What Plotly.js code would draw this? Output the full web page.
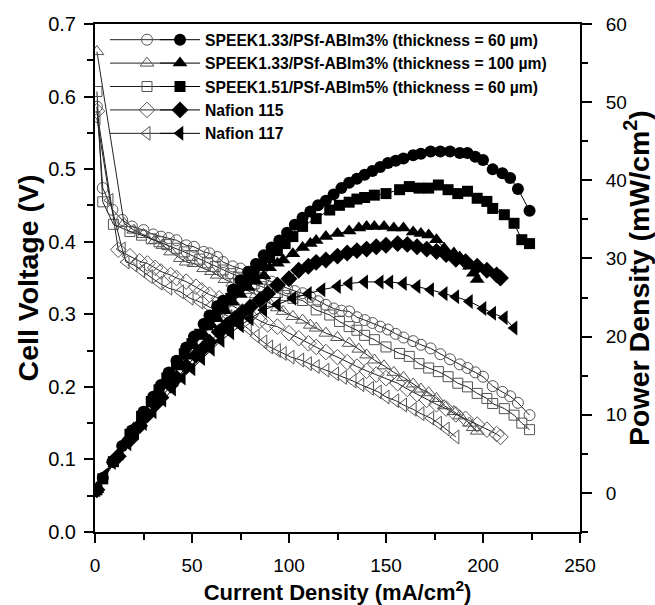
<!DOCTYPE html>
<html>
<head>
<meta charset="utf-8">
<script src="https://cdn.plot.ly/plotly-3.0.1.min.js"></script>
<style>
  html, body { margin: 0; padding: 0; background: #fff; }
  #chart { width: 655px; height: 605px; }
</style>
</head>
<body>
<div id="chart"></div>
<script>
// ---- Data ----
const seriesNames = [
  'SPEEK1.33/PSf-ABIm3% (thickness = 60 µm)',
  'SPEEK1.33/PSf-ABIm3% (thickness = 100 µm)',
  'SPEEK1.51/PSf-ABIm5% (thickness = 60 µm)',
  'Nafion 115',
  'Nafion 117'
];

// SPEEK1.33/PSf-ABIm3% 60 µm (circles)
const currentA = [1, 4, 9, 14, 19, 25, 30, 34, 38, 42, 47, 51, 56, 59, 63, 66, 71, 75, 79, 83, 87, 91, 95, 99, 103, 107, 111, 115, 119, 123, 127, 131, 135, 139, 143, 147, 151, 155, 159, 164, 168, 173, 178, 183, 188, 192, 196, 200, 205, 210, 214, 218, 224];
const voltageA = [0.586, 0.474, 0.444, 0.430, 0.421, 0.416, 0.410, 0.407, 0.405, 0.402, 0.395, 0.393, 0.386, 0.384, 0.379, 0.372, 0.366, 0.363, 0.358, 0.353, 0.349, 0.345, 0.340, 0.336, 0.332, 0.329, 0.324, 0.318, 0.313, 0.308, 0.305, 0.304, 0.296, 0.292, 0.288, 0.283, 0.279, 0.273, 0.268, 0.263, 0.258, 0.253, 0.245, 0.238, 0.231, 0.226, 0.220, 0.214, 0.201, 0.193, 0.187, 0.178, 0.161];
const powerA = [0.4, 1.9, 4.0, 6.0, 8.0, 10.4, 12.3, 13.8, 15.4, 16.9, 18.6, 20.0, 21.6, 22.7, 23.9, 24.6, 26.0, 27.2, 28.3, 29.3, 30.4, 31.4, 32.3, 33.3, 34.3, 35.2, 36.0, 36.8, 37.4, 38.2, 39.0, 39.7, 40.2, 40.7, 41.2, 41.7, 42.2, 42.5, 42.8, 43.2, 43.4, 43.7, 43.7, 43.7, 43.5, 43.5, 43.0, 42.6, 41.4, 40.9, 40.3, 38.9, 36.1];

// SPEEK1.33/PSf-ABIm3% 100 µm (up triangles)
const currentB = [1, 15, 20, 25, 31, 35, 39, 44, 47, 51, 56, 60, 63, 67, 71, 75, 79, 83, 87, 90, 94, 97, 102, 107, 111, 114, 119, 125, 131, 136, 140, 144, 149, 154, 159, 164, 168, 172, 176, 180, 185, 188, 193, 195, 197];
const voltageB = [0.662, 0.425, 0.416, 0.410, 0.402, 0.395, 0.386, 0.377, 0.372, 0.370, 0.363, 0.359, 0.354, 0.348, 0.343, 0.338, 0.333, 0.327, 0.320, 0.315, 0.309, 0.304, 0.297, 0.292, 0.285, 0.281, 0.274, 0.268, 0.260, 0.252, 0.244, 0.237, 0.229, 0.220, 0.213, 0.204, 0.197, 0.192, 0.184, 0.174, 0.166, 0.160, 0.150, 0.144, 0.139];
const powerB = [0.4, 6.4, 8.3, 10.2, 12.5, 13.8, 15.1, 16.6, 17.5, 18.9, 20.3, 21.5, 22.3, 23.3, 24.4, 25.4, 26.3, 27.1, 27.8, 28.8, 29.4, 29.8, 30.6, 31.4, 31.9, 32.3, 32.8, 33.2, 33.5, 33.9, 34.1, 34.1, 34.1, 33.9, 33.9, 33.4, 33.2, 33.0, 32.4, 31.3, 30.7, 30.2, 29.0, 28.1, 27.3];

// SPEEK1.51/PSf-ABIm5% 60 µm (squares)
const currentC = [1, 4, 9.5, 18, 24, 29, 33, 37, 42, 46, 50, 54, 58, 62, 66, 70, 74, 78, 82, 86, 90, 94, 98, 102, 107, 114, 121, 126, 131, 135, 139, 144, 150, 157, 162, 167, 172, 177, 182, 187, 192, 197, 202, 205, 211, 216, 220, 224];
const voltageC = [0.607, 0.455, 0.424, 0.414, 0.409, 0.404, 0.400, 0.396, 0.391, 0.386, 0.381, 0.376, 0.371, 0.366, 0.361, 0.356, 0.351, 0.347, 0.342, 0.338, 0.334, 0.330, 0.326, 0.322, 0.319, 0.306, 0.299, 0.290, 0.283, 0.278, 0.271, 0.265, 0.255, 0.246, 0.242, 0.232, 0.226, 0.221, 0.214, 0.205, 0.200, 0.191, 0.184, 0.177, 0.170, 0.161, 0.150, 0.141];
const powerC = [0.4, 1.8, 4.0, 7.5, 9.8, 11.7, 13.2, 14.7, 16.4, 17.8, 19.1, 20.3, 21.5, 22.7, 23.8, 24.9, 26.0, 27.1, 28.0, 29.1, 30.1, 31.0, 31.9, 32.8, 34.1, 35.1, 36.2, 36.8, 37.2, 37.6, 37.8, 38.1, 38.3, 38.8, 39.2, 39.0, 39.0, 39.4, 38.8, 38.3, 38.6, 37.7, 37.3, 36.4, 35.6, 34.5, 32.4, 31.9];

// Nafion 115 (diamonds)
const currentD = [1, 12, 18, 23, 27, 31, 34, 39, 42, 47, 52, 55, 59, 64, 68, 72, 76, 80, 85, 89, 94, 100, 105, 110, 114, 119, 125, 130, 135, 140, 145, 150, 156, 161, 166, 171, 176, 181, 186, 191, 197, 202, 207, 209];
const voltageD = [0.58, 0.389, 0.380, 0.373, 0.370, 0.364, 0.359, 0.354, 0.350, 0.345, 0.338, 0.333, 0.327, 0.322, 0.316, 0.310, 0.304, 0.298, 0.291, 0.286, 0.283, 0.274, 0.267, 0.260, 0.255, 0.248, 0.241, 0.234, 0.228, 0.222, 0.217, 0.212, 0.205, 0.197, 0.190, 0.182, 0.176, 0.170, 0.162, 0.156, 0.148, 0.141, 0.135, 0.131];
const powerD = [0.4, 4.7, 6.8, 8.6, 10.0, 11.3, 12.2, 13.8, 14.7, 16.2, 17.6, 18.3, 19.3, 20.6, 21.5, 22.3, 23.1, 23.8, 24.7, 25.5, 26.6, 27.4, 28.5, 29.0, 29.5, 29.8, 30.3, 30.7, 31.0, 31.2, 31.5, 31.7, 31.9, 31.8, 31.5, 31.2, 30.9, 30.5, 29.9, 29.6, 29.0, 28.5, 27.9, 27.5];

// Nafion 117 (left triangles)
const currentEv = [1, 7.7, 14, 16, 20, 24, 28, 33, 38, 44, 49, 54, 59, 64, 69, 74, 79, 83, 87, 90, 94, 97, 101, 106, 110, 114, 119, 124, 128, 133, 137, 142, 146, 150, 155, 159, 164, 168, 173, 177, 181, 186];
const voltageE = [0.57, 0.457, 0.390, 0.372, 0.368, 0.360, 0.352, 0.343, 0.336, 0.331, 0.322, 0.317, 0.310, 0.304, 0.297, 0.290, 0.280, 0.270, 0.262, 0.255, 0.250, 0.246, 0.241, 0.237, 0.232, 0.228, 0.223, 0.218, 0.213, 0.208, 0.203, 0.198, 0.193, 0.186, 0.181, 0.175, 0.169, 0.163, 0.157, 0.150, 0.142, 0.131];
const currentEp = [1, 5, 9, 13, 17, 21, 25, 30, 35, 40, 45, 50, 55, 60, 65, 70, 75, 80, 87, 94, 102, 110, 117, 125, 131, 139, 147, 152, 159, 166, 173, 180, 186, 193, 200, 205, 211, 216];
const powerE = [0.4, 2.3, 3.9, 5.1, 6.3, 7.7, 8.9, 10.4, 11.9, 13.3, 14.7, 15.9, 17.2, 18.4, 19.5, 20.5, 21.4, 22.3, 23.4, 24.1, 24.9, 25.5, 26.0, 26.4, 26.8, 27.0, 27.0, 27.0, 26.8, 26.4, 26.0, 25.5, 25.1, 24.5, 23.6, 23.0, 22.4, 21.1];

const xTicks = [0, 50, 100, 150, 200, 250];
const yTicks = [0.0, 0.1, 0.2, 0.3, 0.4, 0.5, 0.6, 0.7];
const y2Ticks = [0, 10, 20, 30, 40, 50, 60];

// ---- Build traces ----
const FONT = 'Arial, "Liberation Sans", sans-serif';
const openSym = ['circle-open', 'triangle-up-open', 'square-open', 'diamond-open', 'triangle-left-open'];
const fillSym = ['circle', 'triangle-up', 'square', 'diamond', 'triangle-left'];
const openSize = [11, 12, 10, 12, 12];
const fillSize = [12, 13, 11, 13, 13];

const vSets = [[currentA, voltageA], [currentB, voltageB], [currentC, voltageC], [currentD, voltageD], [currentEv, voltageE]];
const pSets = [[currentA, powerA], [currentB, powerB], [currentC, powerC], [currentD, powerD], [currentEp, powerE]];

const traces = [];
vSets.forEach(function (s, i) {
  traces.push({
    x: s[0], y: s[1], type: 'scatter', mode: 'lines+markers',
    name: '\u00a0', legend: 'legend', yaxis: 'y',
    line: { color: '#222', width: 1 },
    marker: { symbol: openSym[i], size: openSize[i], color: '#555', line: { width: 1, color: '#555' } },
    hoverinfo: 'skip'
  });
});
pSets.forEach(function (s, i) {
  traces.push({
    x: s[0], y: s[1], type: 'scatter', mode: 'lines+markers',
    name: seriesNames[i], legend: 'legend2', yaxis: 'y2',
    line: { color: '#000', width: 1 },
    marker: { symbol: fillSym[i], size: fillSize[i], color: '#000', line: { width: 0 } },
    hoverinfo: 'skip'
  });
});

const axisCommon = {
  showline: true, linecolor: '#000', linewidth: 2,
  ticks: 'outside', ticklen: 9, tickwidth: 2, tickcolor: '#000',
  showgrid: false, zeroline: false,
  tickfont: { family: FONT, size: 19, color: '#000' }
};

const LEGEND_FONT = { family: FONT, size: 15.7, weight: 'bold', color: '#000' };

const layout = {
  width: 655, height: 605,
  margin: { l: 95, r: 75, t: 24, b: 73 },
  paper_bgcolor: '#fff', plot_bgcolor: '#fff',
  font: { family: FONT, color: '#000' },
  xaxis: Object.assign({}, axisCommon, {
    range: [0, 250], tickvals: xTicks, mirror: true,
    minor: { dtick: 25, ticks: 'outside', ticklen: 6, tickwidth: 2, tickcolor: '#000' },
    ticklabelstandoff: 6,
    title: { text: 'Current Density (mA/cm<sup>2</sup>)', font: { family: FONT, size: 22, weight: 'bold', color: '#000' }, standoff: 14 }
  }),
  yaxis: Object.assign({}, axisCommon, {
    range: [0, 0.7], tickvals: yTicks, tickformat: '.1f',
    tickfont: { family: FONT, size: 20, color: '#000' },
    minor: { dtick: 0.05, ticks: 'outside', ticklen: 6, tickwidth: 2, tickcolor: '#000' },
    ticklabelstandoff: 4,
    title: { text: 'Cell Voltage (V)', font: { family: FONT, size: 28.5, weight: 'bold', color: '#000' }, standoff: 1 }
  }),
  yaxis2: Object.assign({}, axisCommon, {
    range: [-5, 60], tickvals: y2Ticks, overlaying: 'y', side: 'right',
    ticklen: 10,
    minor: { dtick: 5, ticks: 'outside', ticklen: 6, tickwidth: 2, tickcolor: '#000' },
    ticklabelstandoff: 10,
    title: { text: 'Power Density (mW/cm<sup>2</sup>)', font: { family: FONT, size: 28.5, weight: 'bold', color: '#000' }, standoff: 5 }
  }),
  showlegend: true,
  legend: {
    x: 0.0206, y: 1.002, xanchor: 'left', yanchor: 'top',
    bgcolor: 'rgba(0,0,0,0)', borderwidth: 0, traceorder: 'normal',
    itemwidth: 74,
    font: LEGEND_FONT,
    itemclick: false, itemdoubleclick: false
  },
  legend2: {
    x: 0.1237, y: 1.002, xanchor: 'left', yanchor: 'top',
    bgcolor: 'rgba(0,0,0,0)', borderwidth: 0, traceorder: 'normal',
    itemwidth: 40,
    font: LEGEND_FONT,
    itemclick: false, itemdoubleclick: false
  }
};

Plotly.newPlot('chart', traces, layout, { displayModeBar: false, staticPlot: true });
</script>
</body>
</html>
